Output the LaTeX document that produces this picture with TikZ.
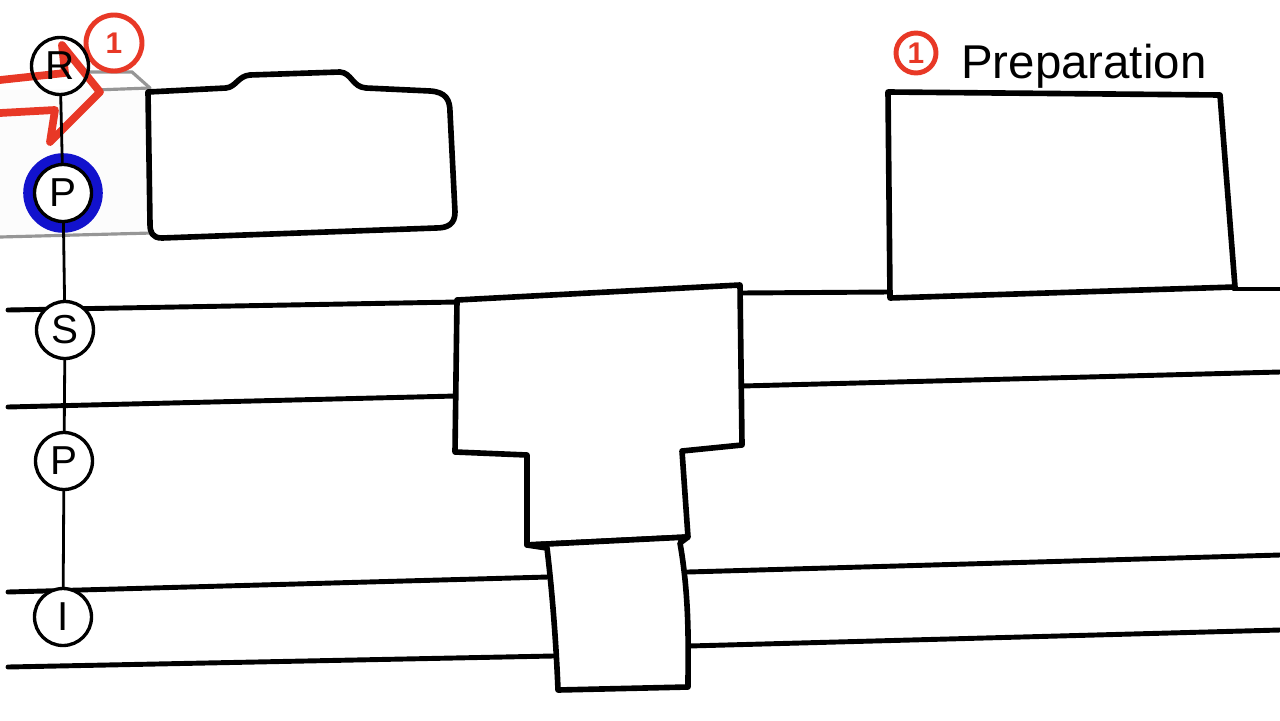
\documentclass[tikz,border=0pt]{standalone}
\usepackage{fontspec}
\setmainfont{Liberation Sans}
\usetikzlibrary{positioning,arrows.meta}
\definecolor{SketchRed}{RGB}{232,56,38}
\definecolor{SketchBlue}{RGB}{18,18,205}
\definecolor{SketchGray}{RGB}{150,150,150}
\tikzset{
  stage/.style={circle,draw=black,fill=white,line width=1.9pt,minimum size=1.14cm,inner sep=0pt,font=\fontsize{23}{23}\selectfont},
  lane/.style={line width=2.8pt,line cap=round},
  link/.style={line width=1.6pt},
  block/.style={draw=black,fill=white,line width=3.2pt,line join=round},
  ghost/.style={draw=SketchGray,line width=1.8pt,line cap=round},
  badge/.style={circle,draw=SketchRed,line width=2.8pt,text=SketchRed,inner sep=0pt,font=\bfseries\fontsize{17}{17}\selectfont},
  pointer/.style={draw=SketchRed,line width=4.4pt,line join=round,line cap=round},
}
\begin{document}
\begin{tikzpicture}[x=0.02cm,y=-0.02cm]
\useasboundingbox[fill=white] (0,0) rectangle (1280,720);
\fill[gray!2] (0,90) -- (150,88) -- (152,234) -- (0,237) -- cycle;
\draw[ghost] (90,72) -- (132,72) -- (150,88);
\draw[ghost] (95,90) -- (150,88);
\draw[ghost] (0,237) -- (152,233);
\draw[pointer] (0,80) -- (65,73) -- (62,45) -- (100,92) -- (50,142) -- (55,110) -- (0,113);
\draw[block] (148,92) -- (226,88) .. controls (236,87) and (238,76) .. (250,75) -- (340,72)
  .. controls (352,73) and (352,87) .. (366,88) -- (430,91) .. controls (446,92) and (450,100) .. (450,112)
  -- (455,212) .. controls (455,224) and (448,228) .. (436,228) -- (162,238) .. controls (152,238) and (150,232) .. (150,224) -- cycle;
\coordinate (l1w) at (8,310); \coordinate (l1e) at (1280,289);
\coordinate (l2w) at (8,407); \coordinate (l2e) at (1280,372);
\coordinate (l3w) at (8,592); \coordinate (l3e) at (1280,555);
\coordinate (l4w) at (8,667); \coordinate (l4e) at (1280,630);
\draw[lane] (l1w) -- (457,302); \draw[lane] (741,293) -- (889,292); \draw[lane] (1234,289) -- (l1e);
\draw[lane] (l2w) -- (456,396); \draw[lane] (742,386) -- (l2e);
\draw[lane] (l3w) -- (548,577); \draw[lane] (688,572) -- (l3e);
\draw[lane] (l4w) -- (553,656); \draw[lane] (689,646) -- (l4e);
\draw[block] (457,300) -- (740,285) -- (742,445) -- (682,451) -- (688,537) -- (527,545) -- (527,455) -- (455,452) -- cycle;
\draw[block] (527,545) -- (688,537) -- (680,543) .. controls (690,600) and (688,650) .. (688,687)
  -- (558,690) .. controls (556,640) and (552,590) .. (547,548) -- cycle;
\draw[block] (888,92) -- (1220,95) -- (1235,287) -- (890,298) -- cycle;
\node[font=\fontsize{27}{27}\selectfont,anchor=base west] (title) at (955,78) {Preparation};
\node[badge,minimum size=0.8cm] (n1) at (916,53) {1};
\node[badge,minimum width=1.08cm,minimum height=1.12cm] (n0) at (114,43) {1};
\coordinate (focus) at (63,193);
\draw[SketchBlue,line width=6.6pt] (focus) circle[radius=0.68cm];
\node[stage,fill=none] (r) at (60,66) {R};
\node[stage] (p1) at (focus) {P};
\node[stage] (s) at (65,330) {S};
\node[stage] (p2) at (64,461) {P};
\node[stage] (i) at (63,617) {I};
\draw[link] (r) -- (p1);
\draw[link] (p1) -- (s);
\draw[link] (s) -- (p2);
\draw[link] (p2) -- (i);
\end{tikzpicture}
\end{document}
